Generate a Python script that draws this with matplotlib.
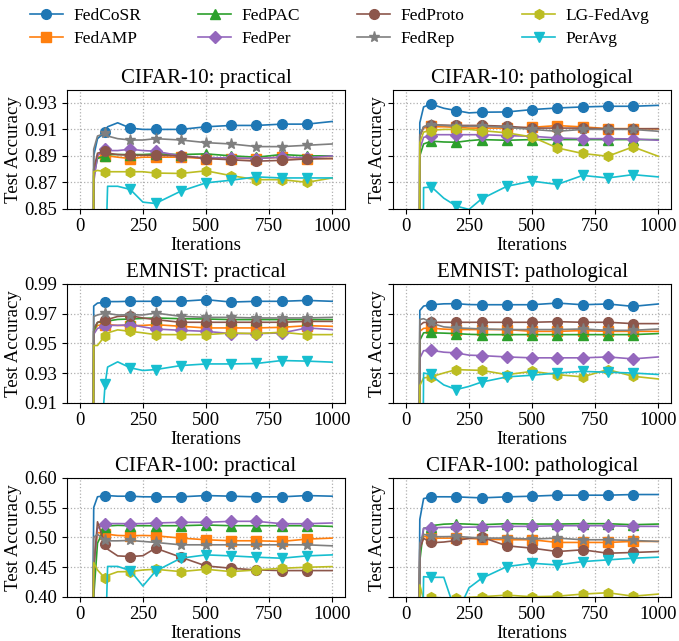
"""Test accuracy curves of FedCoSR and baselines on three datasets."""

import matplotlib

matplotlib.use("Agg")

import matplotlib.pyplot as plt
from matplotlib.ticker import FormatStrFormatter

plt.rcParams["font.family"] = ["Liberation Serif", "DejaVu Serif"]

ITERATIONS = [0, 45, 55, 70, 100, 110, 150, 200, 250, 300, 400, 500, 600, 700, 800, 900, 1000]
METHODS = ["FedCoSR", "FedAMP", "FedPAC", "FedPer", "FedProto", "FedRep", "LG-FedAvg", "PerAvg"]

CIFAR10_PRACTICAL = {
    "FedCoSR": [.1, .1, .890, .903, .908, .912, .915, .911, .910, .910, .910, .912, .913, .913, .914, .914, .916],
    "FedAMP": [.1, .1, .880, .889, .890, .890, .889, .888, .889, .889, .889, .888, .888, .888, .889, .888, .888],
    "FedPAC": [.1, .1, .875, .888, .890, .891, .891, .891, .891, .8915, .891, .8915, .890, .889, .891, .890, .890],
    "FedPer": [.1, .1, .870, .890, .895, .894, .894, .895, .894, .8935, .890, .8885, .8885, .888, .889, .8885, .890],
    "FedProto": [.1, .1, .880, .892, .8935, .892, .891, .8905, .8905, .8905, .890, .888, .887, .886, .8866, .8877, .888],
    "FedRep": [.1, .1, .895, .905, .907, .905, .903, .902, .902, .903, .902, .900, .899, .897, .897, .898, .899],
    "LG-FedAvg": [.1, .1, .878, .879, .878, .878, .878, .878, .878, .877, .8767, .8787, .875, .872, .872, .870, .8733],
    "PerAvg": [.1, .1, .3, .6, .80, .867, .867, .8646, .855, .854, .8633, .8696, .8716, .8741, .8733, .8733, .8733],
}
CIFAR10_PATHOLOGICAL = {
    "FedCoSR": [.1, .1, .915, .927, .9292, .9285, .926, .9242, .9225, .923, .9232, .925, .9262, .927, .9275, .9275, .9282],
    "FedAMP": [.1, .1, .905, .911, .9124, .912, .912, .9116, .911, .911, .911, .9116, .9129, .9119, .9106, .9106, .9104],
    "FedPAC": [.1, .1, .890, .899, .9011, .901, .9005, .9003, .9015, .9023, .9018, .9023, .9023, .9023, .9023, .9023, .9023],
    "FedPer": [.1, .1, .895, .904, .9053, .906, .906, .906, .906, .906, .9053, .9048, .9035, .903, .903, .9028, .9018],
    "FedProto": [.1, .1, .905, .912, .9136, .9135, .9132, .913, .913, .913, .9124, .911, .911, .911, .9104, .9104, .9106],
    "FedRep": [.1, .1, .905, .912, .9136, .9135, .913, .9124, .9124, .9124, .9116, .910, .9086, .910, .910, .910, .9086],
    "LG-FedAvg": [.1, .1, .900, .908, .9091, .9095, .910, .910, .910, .9091, .9074, .9043, .896, .8918, .8897, .8968, .8897],
    "PerAvg": [.1, .1, .3, .866, .8664, .865, .858, .852, .8495, .8575, .867, .8709, .8684, .8752, .8733, .8758, .8741],
}
EMNIST_PRACTICAL = {
    "FedCoSR": [.5, .5, .975, .977, .9775, .978, .978, .9782, .9782, .9782, .9782, .9793, .9777, .9782, .9782, .9788, .9782],
    "FedAMP": [.5, .5, .958, .962, .9625, .9625, .962, .9618, .962, .9625, .9614, .9603, .9603, .9603, .9607, .9618, .9614],
    "FedPAC": [.5, .5, .958, .964, .9647, .965, .966, .9663, .9667, .967, .9665, .9663, .9659, .9659, .9659, .9659, .9659],
    "FedPer": [.5, .5, .956, .960, .9614, .962, .962, .9625, .961, .9596, .9587, .958, .9565, .9565, .9569, .9603, .9592],
    "FedProto": [.5, .5, .960, .964, .9659, .966, .968, .9685, .967, .9659, .9641, .9641, .9641, .9641, .9641, .9647, .9647],
    "FedRep": [.5, .5, .968, .969, .9703, .970, .969, .9692, .969, .9703, .9681, .9674, .9674, .967, .967, .967, .9674],
    "LG-FedAvg": [.5, .5, .9485, .9485, .9551, .957, .959, .958, .957, .9558, .9558, .9558, .9569, .9565, .9574, .9558, .9558],
    "PerAvg": [.5, .5, .6, .85, .9223, .934, .9375, .9335, .9317, .9323, .935, .9361, .9361, .9364, .9384, .938, .9373],
}
EMNIST_PATHOLOGICAL = {
    "FedCoSR": [.5, .5, .972, .975, .9759, .976, .9765, .9766, .976, .9759, .9759, .9759, .977, .9759, .9764, .9748, .9764],
    "FedAMP": [.5, .5, .958, .960, .9603, .960, .9595, .9592, .9592, .9592, .9592, .958, .958, .9585, .958, .958, .958],
    "FedPAC": [.5, .5, .952, .957, .9574, .957, .9568, .9565, .956, .9558, .9558, .9558, .9558, .9558, .9558, .9558, .9565],
    "FedPer": [.5, .5, .940, .945, .9453, .945, .944, .9435, .942, .9417, .9408, .9402, .9402, .9402, .9408, .9395, .9408],
    "FedProto": [.5, .5, .962, .964, .9641, .9641, .9641, .9641, .9641, .9641, .9641, .9641, .9645, .9641, .9641, .9632, .9632],
    "FedRep": [.5, .5, .966, .9665, .9641, .963, .961, .9603, .960, .9596, .9592, .9592, .9592, .9596, .9587, .9587, .9596],
    "LG-FedAvg": [.5, .5, .9216, .9267, .9274, .928, .930, .9323, .932, .9318, .9289, .9311, .9289, .9274, .9323, .9278, .926],
    "PerAvg": [.5, .5, .6, .93, .929, .927, .922, .9189, .921, .9239, .9274, .9285, .930, .9311, .9305, .930, .929],
}
CIFAR100_PRACTICAL = {
    "FedCoSR": [.01, .01, .55, .568, .5701, .570, .569, .569, .568, .5679, .5679, .5701, .569, .5679, .5679, .5701, .569],
    "FedAMP": [.01, .01, .45, .508, .5059, .505, .503, .5025, .503, .5025, .4986, .4958, .4941, .4941, .493, .4969, .4986],
    "FedPAC": [.01, .01, .40, .490, .5172, .519, .520, .5194, .5194, .5194, .5194, .5206, .5194, .5194, .5194, .5194, .5183],
    "FedPer": [.01, .01, .45, .515, .5228, .523, .523, .5228, .523, .524, .5251, .5251, .5268, .5268, .5228, .5228, .524],
    "FedProto": [.01, .01, .45, .526, .4884, .480, .4687, .4676, .469, .4817, .4665, .4518, .4479, .4451, .444, .444, .444],
    "FedRep": [.01, .01, .50, .505, .4946, .494, .494, .4946, .493, .4913, .4873, .4873, .4873, .4873, .4873, .4873, .4856],
    "LG-FedAvg": [.01, .01, .4575, .445, .431, .436, .442, .4423, .445, .4462, .4423, .4462, .4423, .445, .4479, .4496, .4507],
    "PerAvg": [.01, .01, .01, .2, .30, .451, .451, .444, .418, .443, .4648, .4704, .4687, .4665, .4648, .4687, .4704],
}
CIFAR100_PATHOLOGICAL = {
    "FedCoSR": [.01, .01, .53, .565, .5679, .568, .568, .5679, .567, .5662, .5679, .569, .5707, .5707, .5707, .5718, .5718],
    "FedAMP": [.01, .01, .48, .502, .4986, .4986, .4986, .4986, .498, .4969, .4958, .4958, .4913, .4913, .4913, .493, .493],
    "FedPAC": [.01, .01, .46, .515, .5172, .520, .522, .5228, .522, .5211, .5228, .5222, .5222, .5228, .5228, .5211, .5222],
    "FedPer": [.01, .01, .48, .515, .5155, .516, .5166, .5166, .517, .5172, .5183, .5183, .5194, .5194, .5194, .5183, .5183],
    "FedProto": [.01, .01, .48, .498, .4913, .491, .492, .4946, .498, .5003, .4856, .4817, .476, .4789, .4732, .4744, .476],
    "FedRep": [.01, .01, .49, .505, .5014, .501, .501, .5014, .500, .4986, .4986, .4969, .4986, .4958, .4958, .4946, .493],
    "LG-FedAvg": [.01, .01, .42, .395, .400, .399, .398, .398, .399, .400, .4028, .400, .401, .4045, .4068, .401, .4045],
    "PerAvg": [.01, .01, .01, .4338, .4327, .4327, .4327, .37, .415, .431, .4507, .4563, .4535, .4591, .462, .4648, .4665],
}

PANELS = [
    ("CIFAR-10: practical", CIFAR10_PRACTICAL),
    ("CIFAR-10: pathological", CIFAR10_PATHOLOGICAL),
    ("EMNIST: practical", EMNIST_PRACTICAL),
    ("EMNIST: pathological", EMNIST_PATHOLOGICAL),
    ("CIFAR-100: practical", CIFAR100_PRACTICAL),
    ("CIFAR-100: pathological", CIFAR100_PATHOLOGICAL),
]
ROW_LIMITS = [(0.85, 0.94), (0.91, 0.99), (0.40, 0.60)]
ROW_TICKS = [
    [0.85, 0.87, 0.89, 0.91, 0.93],
    [0.91, 0.93, 0.95, 0.97, 0.99],
    [0.40, 0.45, 0.50, 0.55, 0.60],
]

COLORS = ["tab:blue", "tab:orange", "tab:green", "tab:purple",
          "tab:brown", "tab:gray", "tab:olive", "tab:cyan"]
MARKERS = ["o", "s", "^", "D", "o", "*", "h", "v"]
MARKER_SIZES = [7, 6.5, 6.5, 6.5, 7, 8, 7, 7]
# markers only on the hundreds from 100 to 900
MARK_IDX = [i for i, x in enumerate(ITERATIONS) if x % 100 == 0 and 100 <= x <= 900]


def draw_panel(ax, title, data, row):
    """Draw one dataset/setting panel."""
    for method, color, marker, size in zip(METHODS, COLORS, MARKERS, MARKER_SIZES):
        ax.plot(ITERATIONS, data[method], color=color, marker=marker,
                markersize=size, markevery=MARK_IDX, linewidth=1.2, label=method)
    ax.set_title(title, fontsize=15, pad=5)
    ax.set_xlim(-50, 1050)
    ax.set_ylim(*ROW_LIMITS[row])
    ax.set_xticks([0, 250, 500, 750, 1000])
    ax.set_yticks(ROW_TICKS[row])
    ax.yaxis.set_major_formatter(FormatStrFormatter("%.2f"))
    ax.grid(True, linestyle=":", color="#b0b0b0", linewidth=0.9)
    ax.tick_params(labelsize=13.5, length=3.5)
    ax.set_xlabel("Iterations", fontsize=13.5, labelpad=1)
    ax.set_ylabel("Test Accuracy", fontsize=13.5, labelpad=2)


def main():
    fig, axes = plt.subplots(3, 2, figsize=(6.79, 6.41), dpi=100, sharey="row")
    fig.subplots_adjust(left=0.099, right=0.988, bottom=0.069, top=0.86,
                        wspace=0.175, hspace=0.63)
    for k, (title, data) in enumerate(PANELS):
        ax = axes[k // 2, k % 2]
        draw_panel(ax, title, data, k // 2)
        if k % 2 == 1:
            ax.tick_params(labelleft=False)

    handles, labels = axes[0, 0].get_legend_handles_labels()
    fig.legend(handles, labels, loc="upper center", bbox_to_anchor=(0.5, 1.012),
               ncol=4, frameon=False, fontsize=12.5, handlelength=1.9,
               handletextpad=0.6, columnspacing=3.3, labelspacing=0.4)
    fig.savefig("out.png", dpi=100)
    plt.close(fig)


if __name__ == "__main__":
    main()
